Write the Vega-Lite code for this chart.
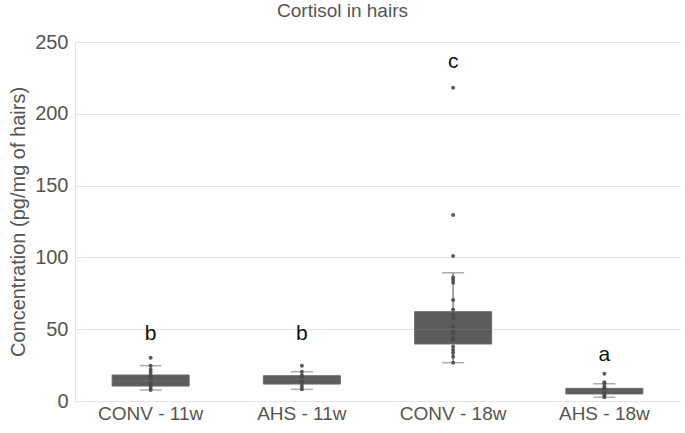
{
  "$schema": "https://vega.github.io/schema/vega-lite/v6.json",
  "autosize": {"type": "none"},
  "width": 605,
  "height": 359,
  "padding": {"left": 75, "top": 42, "right": 5, "bottom": 32},
  "background": "white",
  "title": {"text": "Cortisol  in hairs", "font": "Liberation Sans", "fontSize": 19, "fontWeight": "normal", "color": "#555555", "offset": 2, "dx": -35, "frame": "group", "baseline": "middle"},
  "config": {
    "view": {"stroke": null},
    "font": "Liberation Sans"
  },
  "datasets": {
    "boxes": [
      {"group": "CONV - 11w", "lower": 7.7, "q1": 10.4, "median": 14, "q3": 18.1, "upper": 24.6},
      {"group": "AHS - 11w", "lower": 8.1, "q1": 11.8, "median": 15, "q3": 17.6, "upper": 20.4},
      {"group": "CONV - 18w", "lower": 26.7, "q1": 39.7, "median": 49.9, "q3": 62.2, "upper": 89.3},
      {"group": "AHS - 18w", "lower": 2.6, "q1": 4.9, "median": 7, "q3": 8.8, "upper": 12}
    ],
    "points": [
      {"group": "CONV - 11w", "value": 30.2}, {"group": "CONV - 11w", "value": 24.6}, {"group": "CONV - 11w", "value": 22}, {"group": "CONV - 11w", "value": 20}, {"group": "CONV - 11w", "value": 18}, {"group": "CONV - 11w", "value": 16}, {"group": "CONV - 11w", "value": 14}, {"group": "CONV - 11w", "value": 13}, {"group": "CONV - 11w", "value": 11}, {"group": "CONV - 11w", "value": 9}, {"group": "CONV - 11w", "value": 7.7},
      {"group": "AHS - 11w", "value": 24.6}, {"group": "AHS - 11w", "value": 20.4}, {"group": "AHS - 11w", "value": 18}, {"group": "AHS - 11w", "value": 17}, {"group": "AHS - 11w", "value": 16}, {"group": "AHS - 11w", "value": 15}, {"group": "AHS - 11w", "value": 14}, {"group": "AHS - 11w", "value": 13}, {"group": "AHS - 11w", "value": 12}, {"group": "AHS - 11w", "value": 10}, {"group": "AHS - 11w", "value": 8.1},
      {"group": "CONV - 18w", "value": 218.2}, {"group": "CONV - 18w", "value": 129.5}, {"group": "CONV - 18w", "value": 101}, {"group": "CONV - 18w", "value": 86}, {"group": "CONV - 18w", "value": 84.3}, {"group": "CONV - 18w", "value": 82.4}, {"group": "CONV - 18w", "value": 70.3}, {"group": "CONV - 18w", "value": 63.8}, {"group": "CONV - 18w", "value": 60}, {"group": "CONV - 18w", "value": 57.6}, {"group": "CONV - 18w", "value": 51.8}, {"group": "CONV - 18w", "value": 49}, {"group": "CONV - 18w", "value": 47.1}, {"group": "CONV - 18w", "value": 44}, {"group": "CONV - 18w", "value": 42.5}, {"group": "CONV - 18w", "value": 37.8}, {"group": "CONV - 18w", "value": 35.5}, {"group": "CONV - 18w", "value": 33.5}, {"group": "CONV - 18w", "value": 30.9}, {"group": "CONV - 18w", "value": 26.7},
      {"group": "AHS - 18w", "value": 19}, {"group": "AHS - 18w", "value": 13}, {"group": "AHS - 18w", "value": 12}, {"group": "AHS - 18w", "value": 10}, {"group": "AHS - 18w", "value": 9}, {"group": "AHS - 18w", "value": 8}, {"group": "AHS - 18w", "value": 7}, {"group": "AHS - 18w", "value": 6}, {"group": "AHS - 18w", "value": 5}, {"group": "AHS - 18w", "value": 4}, {"group": "AHS - 18w", "value": 2.6}
    ],
    "letters": [
      {"group": "CONV - 11w", "label": "b", "y": 47},
      {"group": "AHS - 11w", "label": "b", "y": 47},
      {"group": "CONV - 18w", "label": "c", "y": 236},
      {"group": "AHS - 18w", "label": "a", "y": 32}
    ]
  },
  "encoding": {
    "x": {
      "field": "group", "type": "nominal",
      "sort": ["CONV - 11w", "AHS - 11w", "CONV - 18w", "AHS - 18w"],
      "scale": {"paddingInner": 0, "paddingOuter": 0},
      "axis": {"title": null, "labelAngle": 0, "labelFontSize": 19, "labelColor": "#555555", "labelFont": "Liberation Sans", "ticks": false, "domain": false, "labelPadding": 3}
    }
  },
  "layer": [
    {
      "data": {"name": "boxes"},
      "mark": {"type": "rule", "color": "#8a8a8a", "strokeWidth": 1.5},
      "encoding": {
        "y": {"field": "lower", "type": "quantitative",
          "scale": {"domain": [0, 250], "nice": false},
          "axis": {"title": "Concentration  (pg/mg of hairs)", "titleFontSize": 20, "titleFontWeight": "normal", "titleColor": "#555555", "titleFont": "Liberation Sans", "titlePadding": 6, "labelFontSize": 20, "labelColor": "#555555", "labelFont": "Liberation Sans", "values": [0, 50, 100, 150, 200, 250], "ticks": false, "domain": true, "domainColor": "#e3e3e3", "gridColor": "#e3e3e3", "grid": true, "labelPadding": 7}},
        "y2": {"field": "upper"}
      }
    },
    {
      "data": {"name": "boxes"},
      "mark": {"type": "tick", "color": "#8a8a8a", "size": 22, "thickness": 1.5},
      "encoding": {"y": {"field": "upper", "type": "quantitative"}}
    },
    {
      "data": {"name": "boxes"},
      "mark": {"type": "tick", "color": "#8a8a8a", "size": 22, "thickness": 1.5},
      "encoding": {"y": {"field": "lower", "type": "quantitative"}}
    },
    {
      "data": {"name": "boxes"},
      "mark": {"type": "bar", "color": "#5c5c5c", "size": 77, "stroke": "#6a6a6a", "strokeWidth": 1},
      "encoding": {"y": {"field": "q1", "type": "quantitative"}, "y2": {"field": "q3"}}
    },
    {
      "data": {"name": "points"},
      "mark": {"type": "circle", "color": "#4a4a4a", "size": 16, "opacity": 0.9},
      "encoding": {"y": {"field": "value", "type": "quantitative"}}
    },
    {
      "data": {"name": "boxes"},
      "mark": {"type": "tick", "color": "#6e6e6e", "size": 77, "thickness": 1.2},
      "encoding": {"y": {"field": "median", "type": "quantitative"}}
    },
    {
      "data": {"name": "letters"},
      "mark": {"type": "text", "color": "#111111", "fontSize": 21, "font": "Liberation Sans", "baseline": "middle"},
      "encoding": {"y": {"field": "y", "type": "quantitative"}, "text": {"field": "label"}}
    }
  ]
}
